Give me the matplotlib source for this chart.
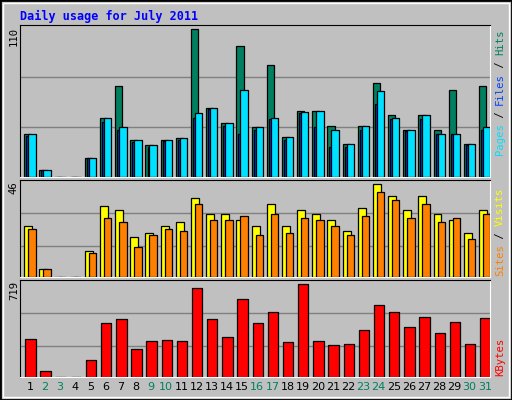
import matplotlib
matplotlib.use("Agg")
import matplotlib.pyplot as plt
from matplotlib.patches import Rectangle
import numpy as np

days = list(range(1, 32))
weekend = [2, 3, 9, 10, 16, 17, 23, 24, 30, 31]
hits = [31,5,0,0,14,43,66,27,23,27,28,107,50,39,95,36,81,29,48,48,37,24,37,68,45,34,45,34,63,24,66]
files = [31,5,0,0,14,43,36,27,23,27,28,46,50,39,63,36,43,29,47,48,34,24,37,62,43,34,45,31,31,24,36]
pages = [30,5,0,0,14,40,34,25,22,26,27,43,49,37,31,34,42,27,46,36,22,22,34,53,42,33,42,31,31,23,34]
visits = [25,4,0,0,13,35,33,20,22,25,27,39,31,31,28,25,36,25,33,31,28,23,34,46,40,33,40,31,28,22,33]
sites = [24,4,0,0,12,29,27,15,21,24,23,36,28,28,30,21,31,22,29,28,25,21,30,42,38,29,36,27,29,19,31]
kbytes = [294,50,0,0,129,420,451,215,278,286,278,688,451,310,601,420,506,270,719,278,247,255,365,554,499,388,467,341,428,255,459]

BG = "#C0C0C0"
C_HITS, C_FILES, C_PAGES = "#008060", "#00E0FF", "#0040FF"
C_VIS, C_SITES, C_KB = "#FFFF00", "#FF8000", "#FF0000"
GREEN = "#008060"

fig = plt.figure(figsize=(5.12, 4.0), dpi=100, facecolor=BG)
fig.patches.append(Rectangle((0, 0), 1, 1, transform=fig.transFigure, fill=False, ec="black", lw=2))
fig.patches.append(Rectangle((0.006, 0.008), 0.988, 0.985, transform=fig.transFigure, fill=False, ec="white", lw=1))
fig.text(20/512, 1-16/400, "Daily usage for July 2011", color="#0000FF", fontsize=8.5,
         fontweight="bold", family="DejaVu Sans Mono", va="center", ha="left")

x = np.array(days, dtype=float)
L, W = 20/512, 470/512

def mkax(top, bot):
    ax = fig.add_axes([L, 1-bot/400, W, (bot-top)/400])
    ax.set_facecolor(BG)
    ax.set_xlim(0.35, 31.35)
    ax.set_xticks([]); ax.set_yticks([])
    for s in ["top", "left"]:
        ax.spines[s].set_color("black")
    for s in ["bottom", "right"]:
        ax.spines[s].set_color("white")
    return ax

def grid(ax, ymax, fr):
    for f in fr:
        ax.axhline(ymax*f, color="#808080", lw=1, zorder=0)

bk = dict(edgecolor="black", linewidth=0.9, align="edge")

ax1 = mkax(25, 177)
ax1.set_ylim(0, 110)
grid(ax1, 110, (0.33, 0.66))
ax1.bar(x-0.375, hits, 0.475, color=C_HITS, zorder=2, **bk)
ax1.bar(x-0.24, pages, 0.13, color=C_PAGES, zorder=3, **bk)
ax1.bar(x-0.11, files, 0.485, color=C_FILES, zorder=4, **bk)

ax2 = mkax(180, 277)
ax2.set_ylim(0, 48)
grid(ax2, 48, (0.315, 0.655))
ax2.bar(x-0.375, visits, 0.525, color=C_VIS, zorder=2, **bk)
ax2.bar(x-0.11, sites, 0.485, color=C_SITES, zorder=3, **bk)

ax3 = mkax(280, 377)
ax3.set_ylim(0, 750)
grid(ax3, 750, (0.315, 0.66))
ax3.bar(x-0.31, kbytes, 0.685, color=C_KB, zorder=2, **bk)

mono = dict(family="DejaVu Sans Mono", fontsize=7.6, rotation=90)
for ax, lab in ((ax1, "110"), (ax2, "46"), (ax3, "719")):
    ax.text(-0.013, 0.99, lab, transform=ax.transAxes, ha="center", va="top", **mono)

for d in days:
    ax3.text(d, -0.1, str(d), transform=ax3.get_xaxis_transform(), ha="center", va="center",
             fontsize=8, family="DejaVu Sans", color=GREEN if d in weekend else "black")

def side(parts, ybottom_px):
    ch = 6.25
    y = ybottom_px
    for t, c in parts:
        fig.text(500/512, 1-y/400, t, color=c, ha="center", va="bottom", **mono)
        y -= ch*len(t)

side([("Pages", C_FILES), (" / ", "black"), ("Files", C_PAGES), (" / ", "black"), ("Hits", C_HITS)], 155)
side([("Sites", C_SITES), (" / ", "black"), ("Visits", C_VIS)], 276)
side([("KBytes", C_KB)], 376)

fig.savefig("out.png", dpi=100, facecolor=BG)
